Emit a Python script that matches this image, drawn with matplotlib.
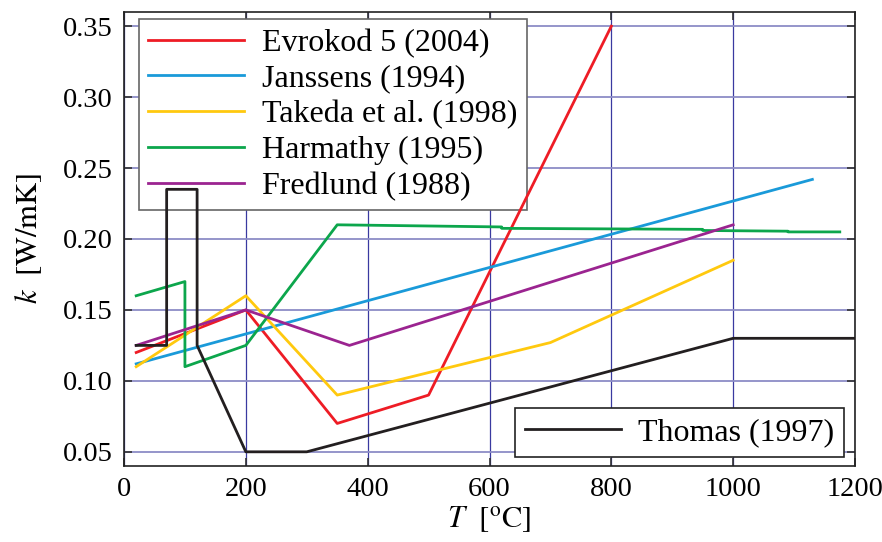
import numpy as np
import matplotlib.pyplot as plt

plt.rcParams['font.family'] = ['Liberation Serif', 'DejaVu Serif']
plt.rcParams['mathtext.fontset'] = 'stix'

# thermal conductivity of wood/char vs temperature, several models
T_ev = [20, 200, 350, 500, 800]
k_ev = [0.12, 0.15, 0.07, 0.09, 0.35]

T_ja = [20, 1130]
k_ja = [0.112, 0.242]

T_ta = [20, 200, 350, 700, 1000]
k_ta = [0.11, 0.16, 0.09, 0.127, 0.185]

T_ha = [20, 100, 100, 200, 350, 620, 620, 950, 950, 1090, 1090, 1175]
k_ha = [0.16, 0.17, 0.11, 0.125, 0.21, 0.2085, 0.2075, 0.2068, 0.206, 0.2055, 0.205, 0.205]

T_fr = [20, 200, 370, 1000]
k_fr = [0.125, 0.15, 0.125, 0.21]

T_th = [20, 70, 70, 120, 120, 200, 300, 1000, 1200]
k_th = [0.125, 0.125, 0.235, 0.235, 0.125, 0.05, 0.05, 0.13, 0.13]

fig = plt.figure(figsize=(8.82, 5.42), dpi=100)
ax = fig.add_axes([0.1406, 0.1402, 0.8288, 0.8377])

lw = 2.0
l1, = ax.plot(T_ev, k_ev, color='#ee1c25', lw=lw, label='Evrokod 5 (2004)', zorder=3)
l2, = ax.plot(T_ja, k_ja, color='#1a9ad9', lw=lw, label='Janssens (1994)', zorder=3)
l3, = ax.plot(T_ta, k_ta, color='#ffc90e', lw=lw, label='Takeda et al. (1998)', zorder=3)
l4, = ax.plot(T_ha, k_ha, color='#0ca64c', lw=lw, label='Harmathy (1995)', zorder=3)
l5, = ax.plot(T_fr, k_fr, color='#9b2490', lw=lw, label='Fredlund (1988)', zorder=3)
l6, = ax.plot(T_th, k_th, color='#231f20', lw=lw, label='Thomas (1997)', zorder=3)

ax.set_xlim(0, 1200)
ax.set_ylim(0.04, 0.36)
ax.set_xticks(np.arange(0, 1201, 200))
ax.set_yticks(np.arange(0.05, 0.351, 0.05))
ax.set_yticklabels(['%.2f' % v for v in np.arange(0.05, 0.351, 0.05)])

ax.grid(axis='x', color='#3a3aa0', lw=0.9)
ax.grid(axis='y', color='#8c8cc6', lw=1.3)
ax.set_axisbelow(True)
ax.tick_params(direction='in', length=6, width=1.2, color='#333333',
               top=True, right=True, labelsize=20.5, pad=8)
for s in ax.spines.values():
    s.set_linewidth(1.2)
    s.set_color('#222222')

ax.set_xlabel(r'$T\ \ [^{\mathrm{o}}\mathrm{C}]$', fontsize=22, labelpad=2)
ax.set_ylabel(r'$k\ \ [\mathrm{W/mK}]$', fontsize=22, labelpad=14)

leg1 = ax.legend(handles=[l1, l2, l3, l4, l5], loc='upper left',
                 bbox_to_anchor=(0.02, 0.985), borderaxespad=0,
                 fontsize=23, handlelength=3.0, handletextpad=0.55,
                 labelspacing=0.2, borderpad=0.3, fancybox=False,
                 framealpha=1, edgecolor='#666666')
leg1.get_frame().set_linewidth(1.2)
leg1.set_zorder(2)
ax.add_artist(leg1)
leg2 = ax.legend(handles=[l6], loc='lower right',
                 bbox_to_anchor=(0.985, 0.02), borderaxespad=0,
                 fontsize=23, handlelength=3.0, handletextpad=0.55,
                 borderpad=0.3, fancybox=False, framealpha=1,
                 edgecolor='#222222')
leg2.get_frame().set_linewidth(1.2)
leg2.set_zorder(4)

fig.savefig('out.png', dpi=100)
